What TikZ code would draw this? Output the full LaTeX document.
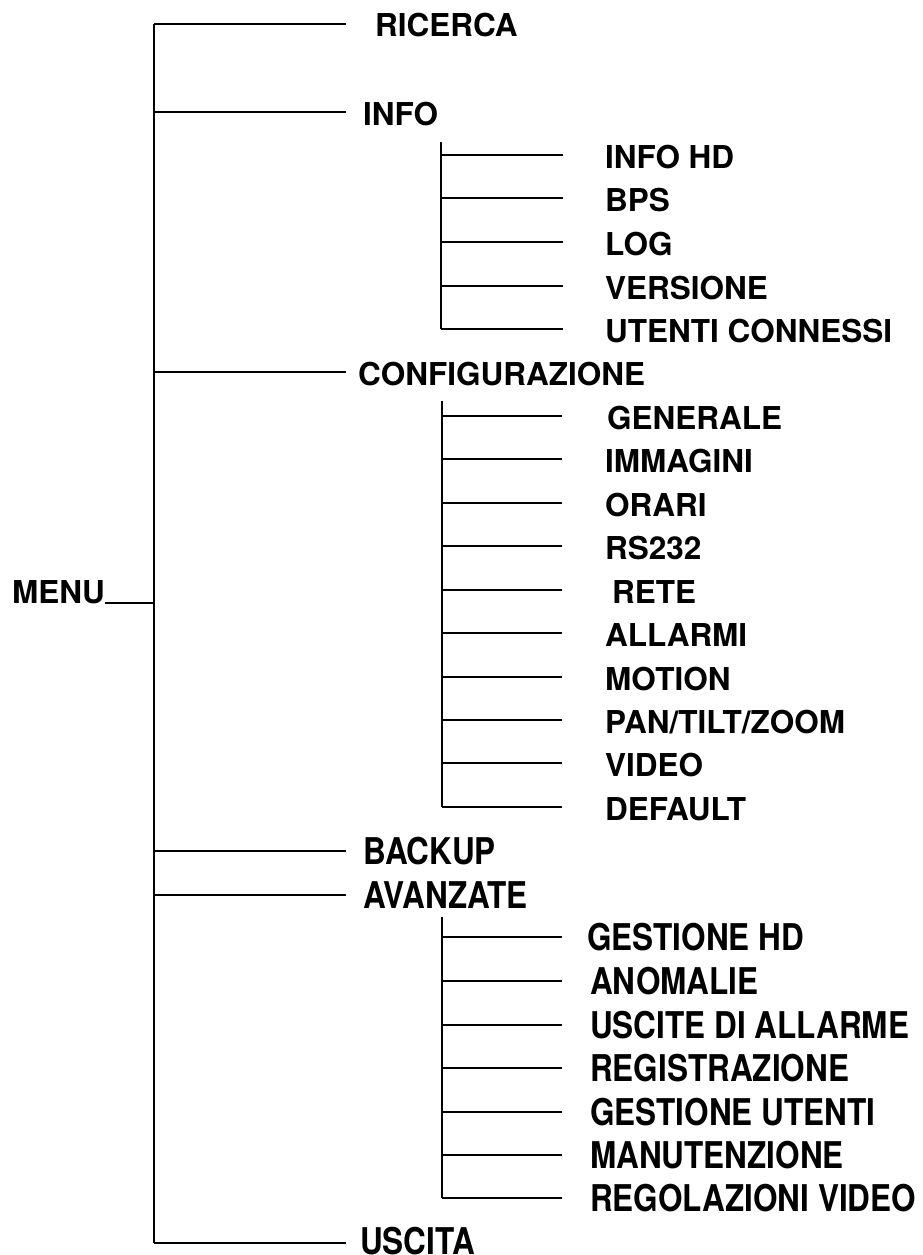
\documentclass[tikz,border=0pt]{standalone}
\usepackage{fontspec}
\setmainfont{Liberation Sans}
\newfontfamily\grassetto{texgyreheros-bold.otf}

\tikzset{
  voce/.style={anchor=base west, inner sep=0pt, font=\grassetto\fontsize{31.5}{36}\selectfont},
  ramo/.style={line width=1.9pt}
}
\newcommand{\alta}[1]{\scalebox{1}[1.17]{#1}}

\begin{document}
\begin{tikzpicture}[x=1pt,y=-1pt]
\useasboundingbox (0,0) rectangle (922,1255);
% tronco principale
\coordinate (top) at (154,24);
\coordinate (bot) at (154,1243);
\draw[ramo] (top) -- (bot);
\node[voce] (menu) at (12,603) {MENU};
\coordinate (mm) at (105,603);
\coordinate (mj) at (154,603);
\draw[ramo] (mm) -- (mj);
\foreach \y [count=\i] in {24,112,372,851,895,1243}{
  \coordinate (r\i) at (154,\y);
  \coordinate (s\i) at (346,\y);
  \draw[ramo] (r\i) -- (s\i);
}
\node[voce] (ricerca) at (375,37) {RICERCA};
\node[voce] (info) at (363,125) {INFO};
\node[voce] (config) at (358,385) {CONFIGURAZIONE};
\node[voce] (backup) at (363,864) {\alta{BACKUP}};
\node[voce] (avanzate) at (363,908) {\alta{AVANZATE}};
\node[voce] (uscita) at (360,1254) {\alta{USCITA}};
% sottomenu info
\coordinate (it) at (441,142);
\foreach \y/\t [count=\i] in {155/INFO HD,198/BPS,242/LOG,286/VERSIONE,329/UTENTI CONNESSI}{
  \coordinate (ia\i) at (441,\y);
  \coordinate (ib\i) at (563,\y);
  \draw[ramo] (ia\i) -- (ib\i);
  \node[voce] (info\i) at (605,\y+13) {\t};
}
\draw[ramo] (it) -- (ia5);
% sottomenu configurazione
\coordinate (ct) at (442,401);
\foreach \y/\x/\t [count=\i] in {416/607/GENERALE,459/605/IMMAGINI,503/605/ORARI,546/605/RS232,590/612/RETE,633/605/ALLARMI,677/605/MOTION,720/605/{PAN/TILT/ZOOM},763/605/VIDEO,807/605/DEFAULT}{
  \coordinate (ca\i) at (442,\y);
  \coordinate (cb\i) at (562,\y);
  \draw[ramo] (ca\i) -- (cb\i);
  \node[voce] (conf\i) at (\x,\y+13) {\t};
}
\draw[ramo] (ct) -- (ca10);
% sottomenu avanzate
\coordinate (at) at (442,917);
\foreach \y/\x/\t [count=\i] in {937/587/GESTIONE HD,981/590/ANOMALIE,1025/590/USCITE DI ALLARME,1068/590/REGISTRAZIONE,1112/590/GESTIONE UTENTI,1155/590/MANUTENZIONE,1198/590/REGOLAZIONI VIDEO}{
  \coordinate (aa\i) at (442,\y);
  \coordinate (ab\i) at (562,\y);
  \draw[ramo] (aa\i) -- (ab\i);
  \node[voce] (avz\i) at (\x,\y+13) {\alta{\t}};
}
\draw[ramo] (at) -- (aa7);
\end{tikzpicture}
\end{document}
